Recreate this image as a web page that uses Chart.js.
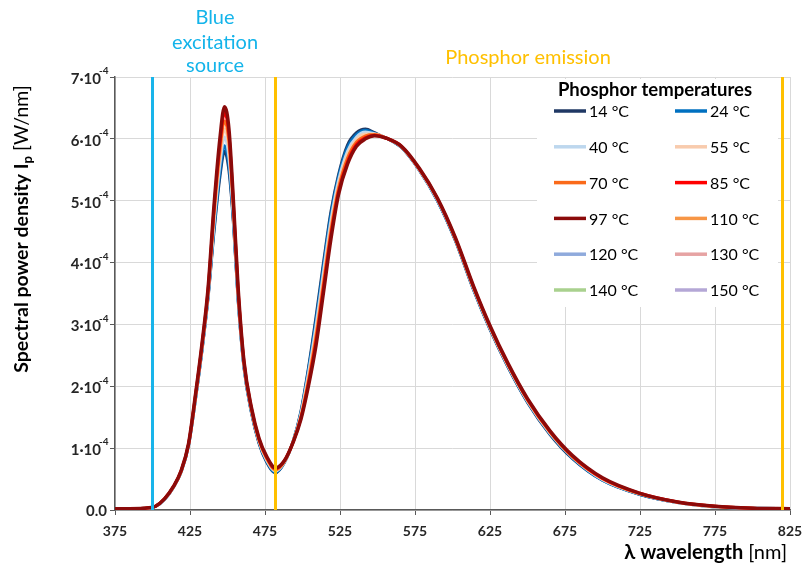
<!DOCTYPE html>
<html><head><meta charset="utf-8">
<script src="https://cdn.jsdelivr.net/npm/chart.js@4.4.1/dist/chart.umd.min.js"></script>
<style>html,body{margin:0;padding:0;background:#fff;}#wrap{width:804px;height:566px;position:relative;}</style>
</head><body><div id="wrap"><canvas id="c" width="804" height="566"></canvas></div>
<script>
// ---- DATA (spectral power density in units of 1e-4 W/nm) ----
const wavelengths = [375,395,402,408,414,419,424,429,433,437,441,445,448,451,454,457,461,466,471,476,482,488,494,499,504,509,514,519,524,530,536,542,548,556,566,578,590,602,614,625,637,650,665,680,700,725,750,775,800,825];
const t14 = [0.02,0.03,0.06,0.17,0.37,0.61,1.04,1.85,2.58,3.42,4.50,5.40,5.80,5.48,4.62,3.42,2.30,1.57,1.08,0.78,0.60,0.77,1.13,1.60,2.30,3.12,4.00,4.83,5.42,5.90,6.10,6.16,6.10,6.01,5.86,5.49,5.00,4.35,3.56,2.92,2.31,1.74,1.22,0.83,0.48,0.25,0.12,0.05,0.03,0.02];
const t24 = [0.02,0.03,0.06,0.17,0.37,0.61,1.04,1.86,2.59,3.44,4.55,5.47,5.89,5.56,4.66,3.44,2.31,1.58,1.09,0.79,0.61,0.77,1.13,1.58,2.27,3.06,3.94,4.78,5.38,5.86,6.07,6.14,6.09,6.01,5.86,5.49,5.00,4.36,3.57,2.93,2.32,1.75,1.23,0.84,0.48,0.25,0.12,0.05,0.03,0.02];
const t40 = [0.02,0.03,0.06,0.17,0.37,0.62,1.05,1.88,2.62,3.47,4.63,5.60,6.03,5.69,4.73,3.48,2.33,1.60,1.11,0.81,0.63,0.78,1.12,1.56,2.21,2.97,3.85,4.69,5.32,5.80,6.03,6.11,6.08,6.01,5.87,5.50,5.01,4.37,3.58,2.94,2.33,1.76,1.24,0.85,0.49,0.26,0.12,0.05,0.03,0.02];
const t55 = [0.02,0.03,0.06,0.18,0.37,0.62,1.05,1.89,2.64,3.50,4.71,5.71,6.16,5.82,4.80,3.52,2.35,1.61,1.12,0.82,0.64,0.78,1.12,1.53,2.15,2.89,3.76,4.61,5.26,5.75,5.99,6.08,6.08,6.01,5.87,5.50,5.02,4.38,3.59,2.95,2.34,1.77,1.25,0.86,0.50,0.26,0.12,0.05,0.03,0.02];
const t70 = [0.02,0.03,0.06,0.18,0.38,0.62,1.06,1.90,2.65,3.52,4.79,5.82,6.29,5.94,4.86,3.56,2.37,1.62,1.13,0.84,0.65,0.79,1.12,1.51,2.10,2.81,3.67,4.53,5.20,5.69,5.95,6.05,6.07,6.01,5.87,5.51,5.03,4.38,3.60,2.96,2.35,1.78,1.26,0.86,0.51,0.26,0.13,0.06,0.03,0.02];
const t85 = [0.02,0.03,0.06,0.18,0.38,0.63,1.06,1.92,2.67,3.55,4.86,5.93,6.42,6.06,4.92,3.59,2.39,1.64,1.15,0.86,0.67,0.80,1.11,1.49,2.05,2.72,3.59,4.45,5.14,5.63,5.91,6.02,6.06,6.01,5.88,5.51,5.03,4.39,3.61,2.97,2.36,1.79,1.27,0.87,0.51,0.27,0.13,0.06,0.03,0.02];
const t97 = [0.02,0.03,0.06,0.18,0.38,0.63,1.07,1.93,2.69,3.57,4.92,6.02,6.52,6.15,4.97,3.62,2.40,1.65,1.16,0.87,0.68,0.80,1.11,1.47,2.01,2.66,3.52,4.39,5.10,5.59,5.88,6.00,6.05,6.01,5.88,5.52,5.04,4.40,3.62,2.98,2.37,1.80,1.28,0.88,0.52,0.27,0.13,0.06,0.03,0.02];
const t110 = [];
const t120 = [];
const t130 = [];
const t140 = [];
const t150 = [];
const seriesLabels = ['14 °C','24 °C','40 °C','55 °C','70 °C','85 °C','97 °C','110 °C','120 °C','130 °C','140 °C','150 °C'];
const seriesValues = [t14,t24,t40,t55,t70,t85,t97,t110,t120,t130,t140,t150];
const xTicks = [375,425,475,525,575,625,675,725,775,825];
const yTicks = [0,1,2,3,4,5,6,7];
const yTickMain = ['0.0','1·10','2·10','3·10','4·10','5·10','6·10','7·10'];
const yTickExp = ['','-4','-4','-4','-4','-4','-4','-4'];
const excitationLine = 400;
const emissionStart = 482;
const emissionEnd = 820;

// ---- STYLE ----
const colors = ['#1f3864','#0070c0','#bdd7ee','#f8cbad','#fa6a1a','#ff0000','#8b0a0a','#f79646','#8faadc','#e6a3a3','#a9d18e','#b4a7d6'];
const drawOrder = [7,6,5,4,3,2,1,8,9,10,11,12];
const FONT = 'Lato, "Open Sans", sans-serif';

const datasets = seriesValues.map((vals,i)=>({
  label: seriesLabels[i],
  data: vals.map((v,j)=>({x: wavelengths[j], y: v})),
  borderColor: colors[i],
  backgroundColor: colors[i],
  borderWidth: i===6 ? 3.5 : 3,
  pointRadius: 0,
  cubicInterpolationMode: 'monotone',
  fill: false,
  order: drawOrder[i]
}));

function drawSegs(ctx, segs, x, y, align){
  let total = 0;
  segs.forEach(s=>{ctx.font=s.font; s.w=ctx.measureText(s.t).width; total+=s.w;});
  let cx = align==='center' ? x-total/2 : (align==='right' ? x-total : x);
  segs.forEach(s=>{ctx.font=s.font; ctx.textAlign='left'; ctx.fillText(s.t, cx, y+(s.dy||0)); cx+=s.w;});
}

const deco = {
  id: 'deco',
  afterDatasetsDraw(chart){
    const {ctx, chartArea:a, scales:{x}} = chart;
    ctx.save();
    ctx.fillStyle = '#ffffff';
    ctx.fillRect(537, 79, 241, 228);
    ctx.fillStyle = '#000';
    ctx.textBaseline = 'middle';
    ctx.font = 'bold 18.5px ' + FONT;
    ctx.textAlign = 'center';
    ctx.fillText('Phosphor temperatures', 655, 90);
    ctx.font = '16px ' + FONT;
    chart.data.datasets.forEach((ds,i)=>{
      const col = i%2, row = Math.floor(i/2);
      const yy = 111 + row*35.8;
      const lx = col===0 ? 554 : 675;
      ctx.strokeStyle = ds.borderColor; ctx.lineWidth = 3.5;
      ctx.beginPath(); ctx.moveTo(lx, yy); ctx.lineTo(lx+32, yy); ctx.stroke();
      ctx.fillStyle = '#000'; ctx.textAlign = 'left';
      ctx.fillText(ds.label, lx+35, yy+1);
    });
    [[excitationLine,'#18b4ea'],[emissionStart,'#ffc000'],[emissionEnd,'#ffc000']].forEach(([v,c])=>{
      const px = x.getPixelForValue(v);
      ctx.strokeStyle = c; ctx.lineWidth = 3;
      ctx.beginPath(); ctx.moveTo(px, a.top); ctx.lineTo(px, a.bottom); ctx.stroke();
    });
    ctx.restore();
  },
  afterDraw(chart){
    const {ctx, scales:{x,y}} = chart;
    ctx.save();
    ctx.fillStyle = '#262626';
    ctx.textBaseline = 'middle';
    ctx.font = 'bold 14px ' + FONT;
    ctx.textAlign = 'center';
    xTicks.forEach(v=>{ ctx.fillText(String(v), x.getPixelForValue(v), 531); });
    yTicks.forEach((v,i)=>{
      const py = y.getPixelForValue(v);
      ctx.font = 'bold 15px ' + FONT;
      if(!yTickExp[i]){ ctx.textAlign='right'; ctx.fillText(yTickMain[i], 107, py+1); return; }
      ctx.textAlign='right';
      ctx.fillText(yTickMain[i], 101, py+2);
      ctx.font = 'bold 10px ' + FONT;
      ctx.textAlign='left';
      ctx.fillText(yTickExp[i], 99, py-6);
    });
    ctx.fillStyle = '#000';
    ctx.translate(22, 229);
    ctx.rotate(-Math.PI/2);
    ctx.textBaseline = 'middle';
    drawSegs(ctx, [
      {t:'Spectral power density I', font:'bold 19.5px '+FONT},
      {t:'p', font:'bold 13px '+FONT, dy:6},
      {t:' [W/nm]', font:'19.5px '+FONT}
    ], 0, 0, 'center');
    ctx.setTransform(1,0,0,1,0,0);
    ctx.textBaseline = 'middle';
    drawSegs(ctx, [
      {t:'λ wavelength', font:'bold 20px '+FONT},
      {t:' [nm]', font:'20px '+FONT}
    ], 787, 553, 'right');
    ctx.font = '20px ' + FONT;
    ctx.textAlign = 'center';
    ctx.fillStyle = '#14b4ea';
    ctx.fillText('Blue', 215, 18);
    ctx.fillText('excitation', 215, 43);
    ctx.fillText('source', 215, 66);
    ctx.fillStyle = '#ffc000';
    ctx.fillText('Phosphor emission', 528, 58);
    ctx.restore();
  }
};

new Chart(document.getElementById('c'), {
  type: 'line',
  data: { datasets },
  options: {
    responsive: false,
    devicePixelRatio: 1,
    animation: false,
    layout: { padding: { top: 77, right: 14, left: 0, bottom: 0 } },
    plugins: { legend: { display: false }, tooltip: { enabled: false }, title: { display: false } },
    scales: {
      x: {
        type: 'linear', min: 375, max: 825,
        afterBuildTicks: s => { s.ticks = xTicks.map(v=>({value:v})); },
        afterFit: s => { s.height = 56; },
        ticks: { display: false },
        grid: { color: '#d9d9d9', lineWidth: 1, drawTicks: true, tickLength: 5, tickColor: '#595959' },
        border: { color: '#595959', width: 1.5 }
      },
      y: {
        type: 'linear', min: 0, max: 7,
        afterBuildTicks: s => { s.ticks = yTicks.map(v=>({value:v})); },
        afterFit: s => { s.width = 115; },
        ticks: { display: false },
        grid: { color: '#d9d9d9', lineWidth: 1, drawTicks: true, tickLength: 5, tickColor: '#595959' },
        border: { color: '#595959', width: 1.5 }
      }
    }
  },
  plugins: [deco]
});
</script></body></html>
